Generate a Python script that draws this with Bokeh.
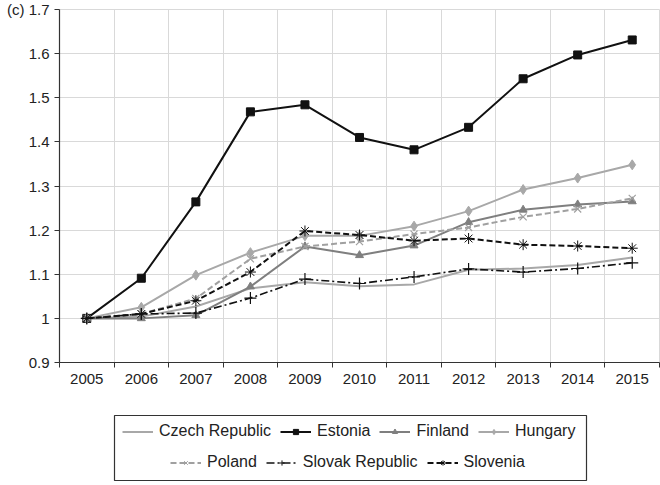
from bokeh.plotting import figure
from bokeh.models import (FixedTicker, Range1d, Legend, LegendItem,
                          CustomJSTickFormatter, ColumnDataSource, BoxAnnotation)
from bokeh.layouts import column
from bokeh.embed import file_html
from bokeh.resources import INLINE

# ---------------- data ----------------
years = [2005, 2006, 2007, 2008, 2009, 2010, 2011, 2012, 2013, 2014, 2015]
czech = [1.000, 1.004, 1.027, 1.068, 1.082, 1.073, 1.077, 1.110, 1.113, 1.121, 1.138]
estonia = [1.000, 1.091, 1.264, 1.468, 1.484, 1.410, 1.382, 1.433, 1.543, 1.597, 1.631]
finland = [1.000, 1.000, 1.007, 1.072, 1.163, 1.143, 1.165, 1.218, 1.246, 1.258, 1.265]
hungary = [1.000, 1.025, 1.098, 1.149, 1.187, 1.187, 1.209, 1.243, 1.292, 1.318, 1.348]
poland = [1.000, 1.010, 1.045, 1.135, 1.163, 1.174, 1.191, 1.206, 1.230, 1.248, 1.272]
slovak = [1.000, 1.010, 1.012, 1.046, 1.089, 1.079, 1.094, 1.112, 1.105, 1.113, 1.126]
slovenia = [1.000, 1.010, 1.040, 1.105, 1.198, 1.189, 1.176, 1.181, 1.167, 1.164, 1.159]
y_ticks = [0.9, 1.0, 1.1, 1.2, 1.3, 1.4, 1.5, 1.6, 1.7]
panel_label = "(c)"

# ---------------- styles ----------------
series = [
    ("Czech Republic", "czech", "#a8a8a8", 2.0, "solid", None, 0, 1.0),
    ("Estonia", "estonia", "#111111", 2.0, "solid", "square", 8, 1.0),
    ("Finland", "finland", "#7f7f7f", 2.0, "solid", "triangle", 8, 1.0),
    ("Hungary", "hungary", "#a8a8a8", 2.0, "solid", "diamond", 10, 1.0),
    ("Poland", "poland", "#a0a0a0", 2.0, "6 3", "x", 10, 1.2),
    ("Slovak Republic", "slovak", "#111111", 1.6, "8 3 2 3", "cross", 12, 1.2),
    ("Slovenia", "slovenia", "#111111", 2.0, "6 3", "asterisk", 11, 1.0),
]

src = ColumnDataSource(dict(x=years, czech=czech, estonia=estonia, finland=finland,
                            hungary=hungary, poland=poland, slovak=slovak,
                            slovenia=slovenia))

FONT = "Liberation Sans"
AX = "#333333"
GRID = "#d9d9d9"

p = figure(width=660, height=395, output_backend="svg", toolbar_location=None,
           x_range=Range1d(years[0] - 0.5, years[-1] + 0.5),
           y_range=Range1d(y_ticks[0], y_ticks[-1]),
           min_border_left=59, min_border_right=1, min_border_top=9,
           min_border_bottom=33)
p.outline_line_color = GRID

bounds = [y - 0.5 for y in years] + [years[-1] + 0.5]

p.xaxis.ticker = FixedTicker(ticks=years, minor_ticks=bounds)
p.xaxis.major_tick_out = 5
p.xaxis.major_tick_in = 0
p.xaxis.minor_tick_out = 5
p.xaxis.minor_tick_in = 0
p.xaxis.minor_tick_line_color = AX
p.xaxis.major_label_standoff = 6
p.xaxis.formatter = CustomJSTickFormatter(code="return String(Math.round(tick));")

p.yaxis.ticker = FixedTicker(ticks=y_ticks)
p.yaxis.major_tick_out = 5
p.yaxis.major_tick_in = 0
p.yaxis.minor_tick_line_color = None
p.yaxis.major_label_standoff = 5
p.yaxis.formatter = CustomJSTickFormatter(
    args=dict(lab=panel_label, top=y_ticks[-1]),
    code="""
    let s = String(Math.round(tick*10)/10);
    if (Math.abs(tick - top) < 1e-9) { s = lab + '\\u00a0' + s; }
    return s;
    """)

for ax in (p.xaxis, p.yaxis):
    ax.axis_line_color = AX
    ax.axis_line_width = 1.2
    ax.major_label_text_font = FONT
    ax.major_label_text_font_size = "15px"
    ax.major_label_text_color = "#222222"
p.yaxis.major_tick_line_color = AX
p.xaxis.major_tick_line_color = None

p.xgrid.ticker = FixedTicker(ticks=bounds)
p.ygrid.ticker = FixedTicker(ticks=y_ticks)
p.xgrid.grid_line_color = GRID
p.ygrid.grid_line_color = GRID

for name, col, color, lw, dash, marker, size, mlw in series:
    p.line(x="x", y=col, source=src, line_color=color, line_width=lw, line_dash=dash)
    if marker:
        p.scatter(x="x", y=col, source=src, marker=marker, size=size,
                  line_color=color, fill_color=color, line_width=mlw)

# ---------------- legend panel ----------------
# The legend panel reuses the same data source, but its ranges keep the data
# out of view: only the legend swatches are visible.
lf = figure(width=660, height=90, output_backend="svg", toolbar_location=None,
            x_range=Range1d(0, 1), y_range=Range1d(0, 1),
            x_axis_type=None, y_axis_type=None,
            min_border_left=59, min_border_right=1, min_border_top=0,
            min_border_bottom=0)
lf.outline_line_color = None

items = []
for name, col, color, lw, dash, marker, size, mlw in series:
    rs = [lf.line(x="x", y=col, source=src, line_color=color, line_width=lw,
                  line_dash=dash)]
    if marker:
        rs.append(lf.scatter(x="x", y=col, source=src, marker=marker,
                             line_color=color, fill_color=color, line_width=1.0))
    items.append(LegendItem(label=name, renderers=rs))

common = dict(orientation="horizontal", glyph_width=31, glyph_height=13,
              label_height=20, label_standoff=6, spacing=9, padding=7, margin=0,
              border_line_alpha=0, background_fill_alpha=0,
              label_text_font=FONT, label_text_font_size="16px",
              label_text_color="#222222")
lf.add_layout(Legend(items=items[:4], location=(56, 37), **common))
lf.add_layout(Legend(items=items[4:], location=(104, 6), **common))

lf.add_layout(BoxAnnotation(left=55, right=527, top=70, bottom=5,
                            left_units="screen", right_units="screen",
                            top_units="screen", bottom_units="screen",
                            fill_alpha=0, line_color=AX, line_width=1.2,
                            line_alpha=1))

open("out.html", "w").write(file_html(column(p, lf), INLINE))
